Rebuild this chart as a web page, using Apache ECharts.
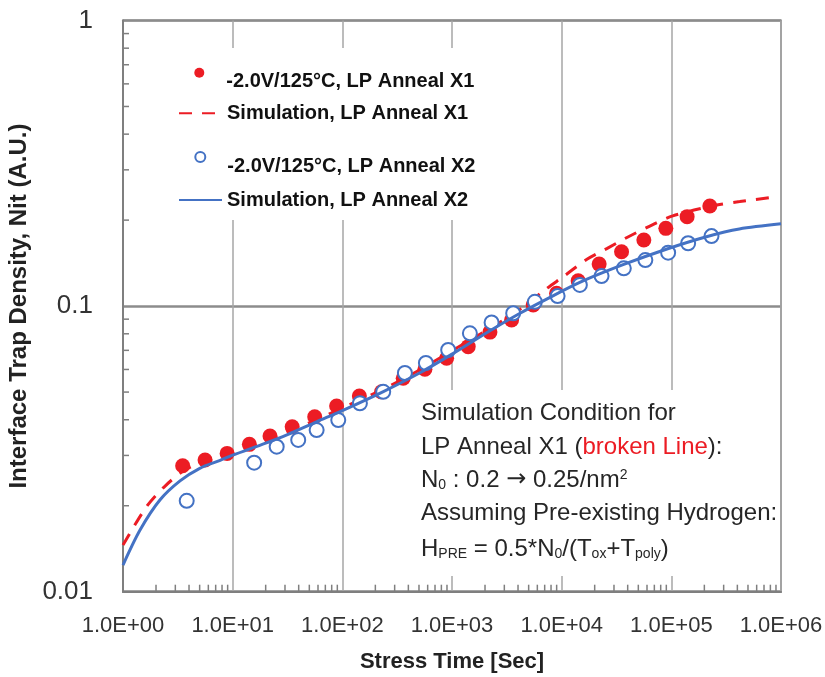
<!DOCTYPE html>
<html>
<head>
<meta charset="utf-8">
<script src="https://cdn.jsdelivr.net/npm/echarts@6/dist/echarts.min.js"></script>
<style>
html,body{margin:0;padding:0;background:#fff;}
#chart{width:825px;height:677px;}
</style>
</head>
<body>
<div id="chart"></div>
<script>
// ---- data ----
const xTickLabels = ['1.0E+00','1.0E+01','1.0E+02','1.0E+03','1.0E+04','1.0E+05','1.0E+06'];
const yTickLabels = ['0.01','0.1','1'];
const seriesNames = ['-2.0V/125\u00B0C, LP Anneal X1','Simulation, LP Anneal X1','-2.0V/125\u00B0C, LP Anneal X2','Simulation, LP Anneal X2'];

const measX1 = [[3.5,0.0276],[5.6,0.0289],[8.9,0.0305],[14.2,0.0328],[21.9,0.0351],[34.9,0.0378],[56,0.041],[88.7,0.0447],[143,0.0484],[228,0.0501],[359,0.0559],[566,0.0601],[893,0.0657],[1405,0.0721],[2218,0.0811],[3494,0.0894],[5499,0.1009],[8983,0.1109],[14140,0.1227],[21970,0.1403],[35160,0.1549],[56150,0.1703],[89100,0.1872],[139300,0.2057],[224400,0.2241]];
const measX2 = [[3.81,0.0208],[15.7,0.0283],[25.2,0.0322],[39.6,0.034],[58.3,0.0368],[91.8,0.0399],[144.6,0.0457],[236,0.0501],[372,0.0583],[578,0.0632],[923,0.0702],[1456,0.0803],[2296,0.0877],[3614,0.0944],[5699,0.1035],[9180,0.1084],[14650,0.1186],[23100,0.1274],[36870,0.1356],[57940,0.1449],[93500,0.1538],[142300,0.166],[232400,0.1758]];
const simX1 = [[1,0.01456],[1.64,0.01986],[2.42,0.02344],[3.67,0.02667],[6.21,0.02917],[10,0.03076],[20,0.03373],[58.3,0.040],[100,0.0440],[234,0.0511],[501,0.0596],[1000,0.0698],[2240,0.0838],[4170,0.0975],[7030,0.1140],[10700,0.1280],[17000,0.1459],[25800,0.159],[40200,0.1746],[63700,0.1907],[103000,0.2070],[260000,0.2259],[421000,0.2323],[841000,0.2404]];
const simX2 = [[1,0.0124],[1.43,0.01644],[2.17,0.02094],[3.31,0.02443],[5.01,0.02704],[7.69,0.02884],[10,0.03006],[20,0.03311],[31.6,0.03548],[58.3,0.03936],[100,0.04305],[234,0.0501],[501,0.0582],[1000,0.0679],[2240,0.0822],[4170,0.0944],[7080,0.1052],[14800,0.1213],[36300,0.1396],[91200,0.1585],[209000,0.1750],[417000,0.1862],[1000000,0.1941]];

const minorMantissas = [2,3,4,5,6,7,8,9];
const xDecades = [1,10,100,1000,10000,100000];
const yDecades = [0.01,0.1];

// ---- helpers ----
const xMinor = [];
xDecades.forEach(d => minorMantissas.forEach(m => xMinor.push([m*d, 0.01])));
const yMinor = [];
yDecades.forEach(d => minorMantissas.forEach(m => yMinor.push([1, +(m*d).toPrecision(2)])));

const RED = '#ec1c24';
const BLUE = '#4472c4';
const FONT = 'Liberation Sans';
const LEGEND_TEXT = {fontFamily: FONT, fontWeight: 'bold', fontSize: 20, color: '#111'};

const chart = echarts.init(document.getElementById('chart'), null, {renderer:'canvas'});

// legend entry for a marker series: text sits a little lower than the marker
function markerLegend(name, icon, left, top) {
  return {
    data: [{name: name, icon: icon}], left: left, top: top, orient: 'horizontal',
    padding: 0, itemWidth: 10, itemHeight: 10, selectedMode: false, symbolKeepAspect: false,
    formatter: n => '{p|' + n + '}',
    textStyle: Object.assign({}, LEGEND_TEXT, {rich: {p: Object.assign({}, LEGEND_TEXT, {padding: [18, 0, 0, 17]})}})
  };
}
// legend entry for a line series
function lineLegend(name, left, top) {
  return {
    data: [name], left: left, top: top, orient: 'horizontal',
    padding: 0, itemWidth: 43, itemHeight: 20, selectedMode: false,
    itemStyle: {opacity: 0},
    textStyle: Object.assign({}, LEGEND_TEXT)
  };
}

const ANN_FONT = '24px "Liberation Sans"';
const SUB_FONT = '14px "Liberation Sans"';

const option = {
  animation: false,
  backgroundColor: '#fff',
  textStyle: {fontFamily: FONT},
  grid: {left: 123, top: 20.5, right: 44, bottom: 85.3, show: true, borderColor: '#9a9a9a', borderWidth: 2,
    containLabel: false, outerBoundsMode: 'none'},
  xAxis: {
    type: 'log', logBase: 10, min: 1, max: 1000000, splitNumber: 6,
    name: 'Stress Time [Sec]', nameLocation: 'middle', nameGap: 59,
    nameTextStyle: {fontFamily: FONT, fontWeight: 'bold', fontSize: 22, color: '#222'},
    axisLine: {lineStyle: {color: '#7f7f7f', width: 2}},
    axisTick: {show: false},
    splitLine: {show: true, lineStyle: {color: '#a6a6a6', width: 1.5}},
    axisLabel: {
      fontFamily: FONT, fontSize: 22, color: '#333', margin: 23, showMaxLabel: true, showMinLabel: true,
      formatter: v => xTickLabels[Math.round(Math.log10(v))]
    }
  },
  yAxis: {
    type: 'log', logBase: 10, min: 0.01, max: 1, splitNumber: 2,
    name: 'Interface Trap Density, Nit (A.U.)', nameLocation: 'middle', nameGap: 81, nameRotate: 90,
    nameTextStyle: {fontFamily: FONT, fontWeight: 'bold', fontSize: 24, color: '#222'},
    axisLine: {lineStyle: {color: '#7f7f7f', width: 2}},
    axisTick: {show: false},
    splitLine: {show: true, lineStyle: {color: '#8c8c8c', width: 2.5}},
    axisLabel: {
      fontFamily: FONT, fontSize: 26, color: '#333', margin: 30,
      formatter: v => yTickLabels[Math.round(Math.log10(v)) + 2]
    }
  },
  legend: [
    markerLegend(seriesNames[0], 'circle', 194.3, 67.7),
    lineLegend(seriesNames[1], 178, 103.3),
    markerLegend(seriesNames[2], 'emptyCircle', 194.3, 151),
    lineLegend(seriesNames[3], 178, 190)
  ],
  graphic: [
    {type: 'rect', z: 1, silent: true, shape: {x: 165, y: 48, width: 320, height: 172}, style: {fill: '#fff'}},
    {type: 'rect', z: 1, silent: true, shape: {x: 412, y: 390, width: 367, height: 186}, style: {fill: '#fff'}},
    {type: 'text', z: 5, x: 421, y: 413, style: {text: 'Simulation Condition for', font: ANN_FONT, fill: '#262626', verticalAlign: 'middle'}},
    {type: 'text', z: 5, x: 421, y: 447, style: {text: 'LP Anneal X1 ({r|broken Line}):', font: ANN_FONT, fill: '#262626', verticalAlign: 'middle',
      rich: {r: {fill: RED, color: RED, font: ANN_FONT}}}},
    {type: 'text', z: 5, x: 421, y: 480, style: {text: 'N{sub|0} : 0.2 {a|\u2192} 0.25/nm{sup|2}', font: ANN_FONT, fill: '#262626', verticalAlign: 'middle',
      rich: {
        sub: {font: SUB_FONT, fill: '#262626', verticalAlign: 'bottom'},
        sup: {font: SUB_FONT, fill: '#262626', verticalAlign: 'top'},
        a: {font: '24px "DejaVu Sans"', fill: '#262626'}
      }}},
    {type: 'text', z: 5, x: 421, y: 513, style: {text: 'Assuming Pre-existing Hydrogen:', font: ANN_FONT, fill: '#262626', verticalAlign: 'middle'}},
    {type: 'text', z: 5, x: 421, y: 549, style: {text: 'H{sub|PRE} = 0.5*N{sub|0}/(T{sub|ox}+T{sub|poly})', font: ANN_FONT, fill: '#262626', verticalAlign: 'middle',
      rich: {sub: {font: SUB_FONT, fill: '#262626', verticalAlign: 'bottom'}}}}
  ],
  series: [
    {
      name: seriesNames[0], type: 'scatter', data: measX1, symbol: 'circle', symbolSize: 15,
      itemStyle: {color: RED, opacity: 1}, z: 3
    },
    {
      name: seriesNames[1], type: 'line', data: simX1, smooth: 0.3, symbol: 'none', showSymbol: false,
      lineStyle: {color: RED, width: 3, type: [13, 10]}, itemStyle: {color: RED}, z: 4
    },
    {
      name: seriesNames[2], type: 'scatter', data: measX2, symbol: 'emptyCircle', symbolSize: 14,
      itemStyle: {color: BLUE, borderColor: BLUE, borderWidth: 2.5, opacity: 1}, z: 5
    },
    {
      name: seriesNames[3], type: 'line', data: simX2, smooth: 0.3, symbol: 'none', showSymbol: false,
      lineStyle: {color: BLUE, width: 3}, itemStyle: {color: BLUE}, z: 6
    },
    {
      name: 'xMinorTicks', type: 'custom', data: xMinor, silent: true, clip: false, z: 7,
      renderItem: (params, api) => {
        const p = api.coord([api.value(0), api.value(1)]);
        return {type: 'line', shape: {x1: p[0], y1: p[1], x2: p[0], y2: p[1] - 7}, style: {stroke: '#7f7f7f', lineWidth: 1.5}};
      }
    },
    {
      name: 'yMinorTicks', type: 'custom', data: yMinor, silent: true, clip: false, z: 7,
      renderItem: (params, api) => {
        const p = api.coord([api.value(0), api.value(1)]);
        return {type: 'line', shape: {x1: p[0], y1: p[1], x2: p[0] + 6, y2: p[1]}, style: {stroke: '#7f7f7f', lineWidth: 1.5}};
      }
    }
  ]
};
chart.setOption(option);
</script>
</body>
</html>
